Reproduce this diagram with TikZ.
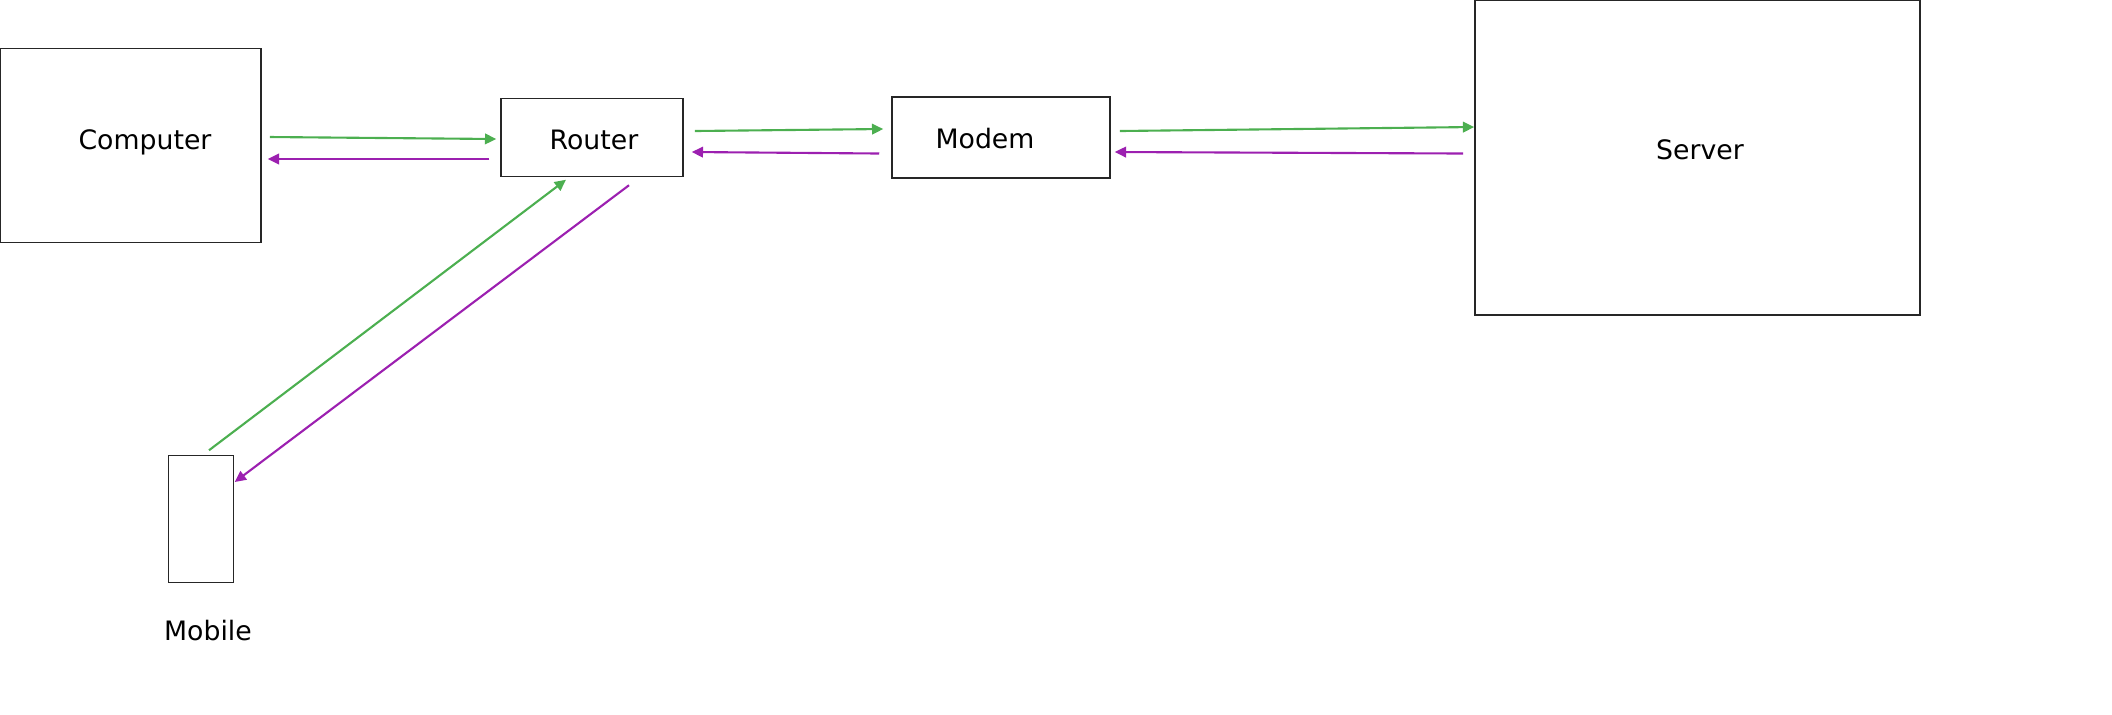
\documentclass[tikz,border=0pt]{standalone}
\usepackage{fontspec}
\setmainfont{DejaVu Sans}
\usetikzlibrary{arrows.meta,positioning,calc}
\definecolor{gr}{RGB}{76,175,80}
\definecolor{pu}{RGB}{156,32,176}

\begin{document}
\begin{tikzpicture}[
    x=0.01cm,y=-0.01cm,
    box/.style={rectangle,draw=black!85,line width=0.4pt,fill=white,inner sep=0pt},
    lbl/.style={font=\fontsize{7.6}{9}\selectfont,inner sep=0pt},
    arr/.style={-{Triangle[length=3.2pt,width=3pt]},line width=0.6pt,#1},
]
\useasboundingbox (0,0) rectangle (2112,714);

% Boxes
\node[box,minimum width=2.61cm,minimum height=1.94cm] (comp) at (130.5,145.5) {};
\node[box,minimum width=1.82cm,minimum height=0.78cm] (router) at (592,137.5) {};
\node[box,minimum width=2.18cm,minimum height=0.81cm] (modem) at (1001,137.5) {};
\node[box,minimum width=4.45cm,minimum height=3.15cm] (server) at (1697.5,157.5) {};
\node[box,minimum width=0.65cm,minimum height=1.27cm] (mobile) at (201,519) {};

% Labels
\node[lbl] (compl) at (145,142) {Computer};
\node[lbl] (routerl) at (594,140) {Router};
\node[lbl] (modeml) at (985,139) {Modem};
\node[lbl] (serverl) at (1700,150) {Server};
\node[lbl] (mobilel) at (208,631) {Mobile};

% Connections
\draw[arr=gr] ([shift={(8,-8.5)}]comp.east) -- ([shift={(-4,1.5)}]router.west);
\draw[arr=pu] ([shift={(-11,21.5)}]router.west) -- ([shift={(6,13.5)}]comp.east);
\draw[arr=gr] ([shift={(11,-6.5)}]router.east) -- ([shift={(-8,-8.5)}]modem.west);
\draw[arr=pu] ([shift={(-12,16)}]modem.west) -- ([shift={(8,14.5)}]router.east);
\draw[arr=gr] ([shift={(9,-6.5)}]modem.east) -- ([shift={(0,-30.5)}]server.west);
\draw[arr=pu] ([shift={(-11,-4)}]server.west) -- ([shift={(4,14.5)}]modem.east);
\draw[arr=gr] ([shift={(8,-4.5)}]mobile.north) -- ([shift={(-26,2.5)}]router.south);
\draw[arr=pu] ([shift={(37,8)}]router.south) -- ([shift={(0.5,-37)}]mobile.east);
\end{tikzpicture}
\end{document}
